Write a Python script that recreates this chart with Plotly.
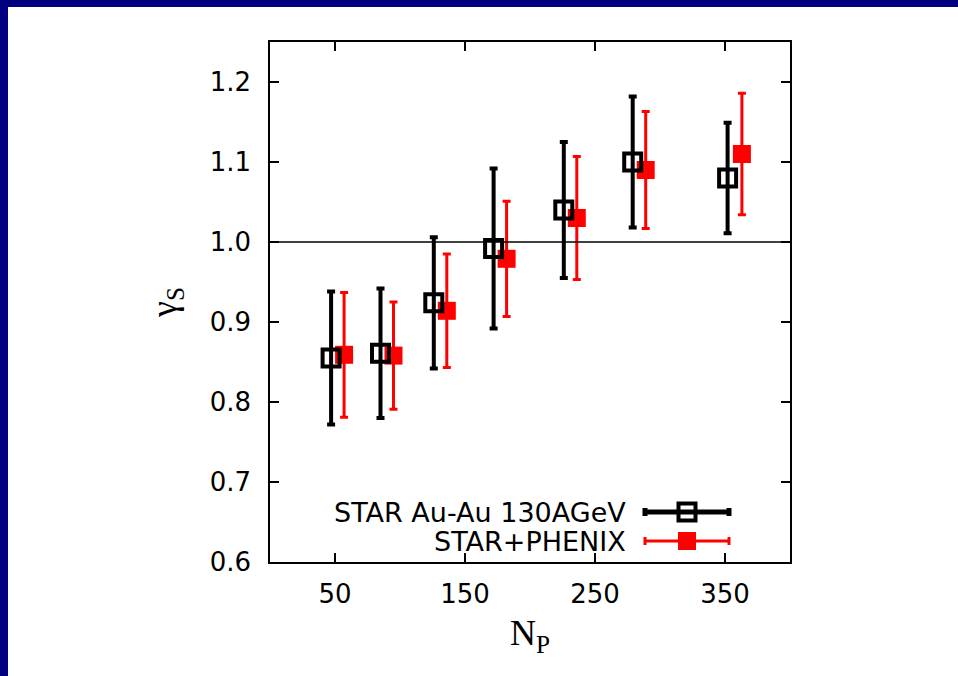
import plotly.graph_objects as go

# Strangeness saturation factor vs number of participants
np_star = [47, 85, 126, 172, 226, 279, 352]
gs_star = [0.855, 0.861, 0.924, 0.992, 1.040, 1.100, 1.080]
err_star = [0.083, 0.081, 0.082, 0.100, 0.085, 0.082, 0.069]

np_sp = [57, 95, 136, 182, 236, 289, 363]
gs_sp = [0.859, 0.858, 0.914, 0.979, 1.030, 1.090, 1.110]
err_sp = [0.078, 0.067, 0.071, 0.072, 0.077, 0.073, 0.076]

series_names = ["STAR Au-Au 130AGeV", "STAR+PHENIX"]
x_ticks = [50, 150, 250, 350]
y_ticks = [0.6, 0.7, 0.8, 0.9, 1.0, 1.1, 1.2]

W, H = 958, 676
ML, MR, MT, MB = 270, 168, 42, 114
PW, PH = W - ML - MR, H - MT - MB

FONT = "DejaVu Sans, Arial, sans-serif"
SERIF = "Liberation Serif, Times New Roman, serif"
NAVY = "#000080"

fig = go.Figure()

fig.add_trace(go.Scatter(
    x=np_sp, y=gs_sp, mode="markers",
    marker=dict(symbol="square", size=18, color="#ff0000", line=dict(width=0)),
    error_y=dict(type="data", array=err_sp, color="#ff0000", thickness=3, width=4),
    showlegend=False,
))
fig.add_trace(go.Scatter(
    x=np_star, y=gs_star, mode="markers",
    marker=dict(symbol="square-open", size=17, color="black", line=dict(width=4)),
    error_y=dict(type="data", array=err_star, color="black", thickness=4, width=4),
    showlegend=False,
))

# legend keys on an overlaid unit axis (right-hand keys, right-aligned text)
kx = (687 - ML) / PW
kw = (729 - 687) / PW
ky = [(MT + PH - 512) / PH, (MT + PH - 541) / PH]
fig.add_trace(go.Scatter(
    x=[kx], y=[ky[0]], xaxis="x2", yaxis="y2", mode="markers",
    marker=dict(symbol="square-open", size=17, color="black", line=dict(width=4)),
    error_x=dict(type="data", array=[kw], color="black", thickness=5, width=4),
    showlegend=False, hoverinfo="skip",
))
fig.add_trace(go.Scatter(
    x=[kx], y=[ky[1]], xaxis="x2", yaxis="y2", mode="markers",
    marker=dict(symbol="square", size=18, color="#ff0000"),
    error_x=dict(type="data", array=[kw], color="#ff0000", thickness=3, width=4),
    showlegend=False, hoverinfo="skip",
))
for name, yy in zip(series_names, ky):
    fig.add_annotation(
        x=(628 - ML) / PW, y=yy, xref="paper", yref="paper",
        text=name, showarrow=False, xanchor="right", yanchor="middle",
        font=dict(family=FONT, size=27, color="black"),
    )

# reference line at gamma_S = 1
fig.add_shape(type="line", xref="paper", yref="y", x0=0, x1=1, y0=1.0, y1=1.0,
              line=dict(color="black", width=1.5))

# slide frame bands (top and left)
fig.add_shape(type="rect", xref="paper", yref="paper", layer="above",
              x0=-ML / PW, x1=(-ML + 8) / PW, y0=-MB / PH - 0.01, y1=(PH + MT) / PH + 0.01,
              fillcolor=NAVY, line=dict(width=0))
fig.add_shape(type="rect", xref="paper", yref="paper", layer="above",
              x0=-ML / PW - 0.01, x1=(PW + MR) / PW + 0.01, y0=(PH + MT - 7) / PH, y1=(PH + MT) / PH + 0.01,
              fillcolor=NAVY, line=dict(width=0))

axis_common = dict(
    showline=True, linecolor="black", linewidth=1.5, mirror="ticks",
    ticks="inside", ticklen=9, tickwidth=1.5, tickcolor="black",
    showgrid=False, zeroline=False,
    tickfont=dict(family=FONT, size=26, color="black"),
)

fig.update_layout(
    width=W, height=H,
    margin=dict(l=ML, r=MR, t=MT, b=MB),
    paper_bgcolor="white", plot_bgcolor="white",
    xaxis=dict(range=[0, 400], tickvals=x_ticks, ticklabelstandoff=8,
               title=dict(text="N<sub>P</sub>", font=dict(family=SERIF, size=36, color="black"),
                          standoff=12),
               **axis_common),
    yaxis=dict(range=[0.6, 1.25], tickvals=y_ticks, tickformat=".1f", ticklabelstandoff=12,
               title=dict(text="γ<sub>S</sub>", font=dict(family=SERIF, size=36, color="black"),
                          standoff=22),
               **axis_common),
    xaxis2=dict(range=[0, 1], overlaying="x", visible=False, fixedrange=True),
    yaxis2=dict(range=[0, 1], overlaying="y", visible=False, fixedrange=True),
    showlegend=False,
)

fig.write_html("out.html")
